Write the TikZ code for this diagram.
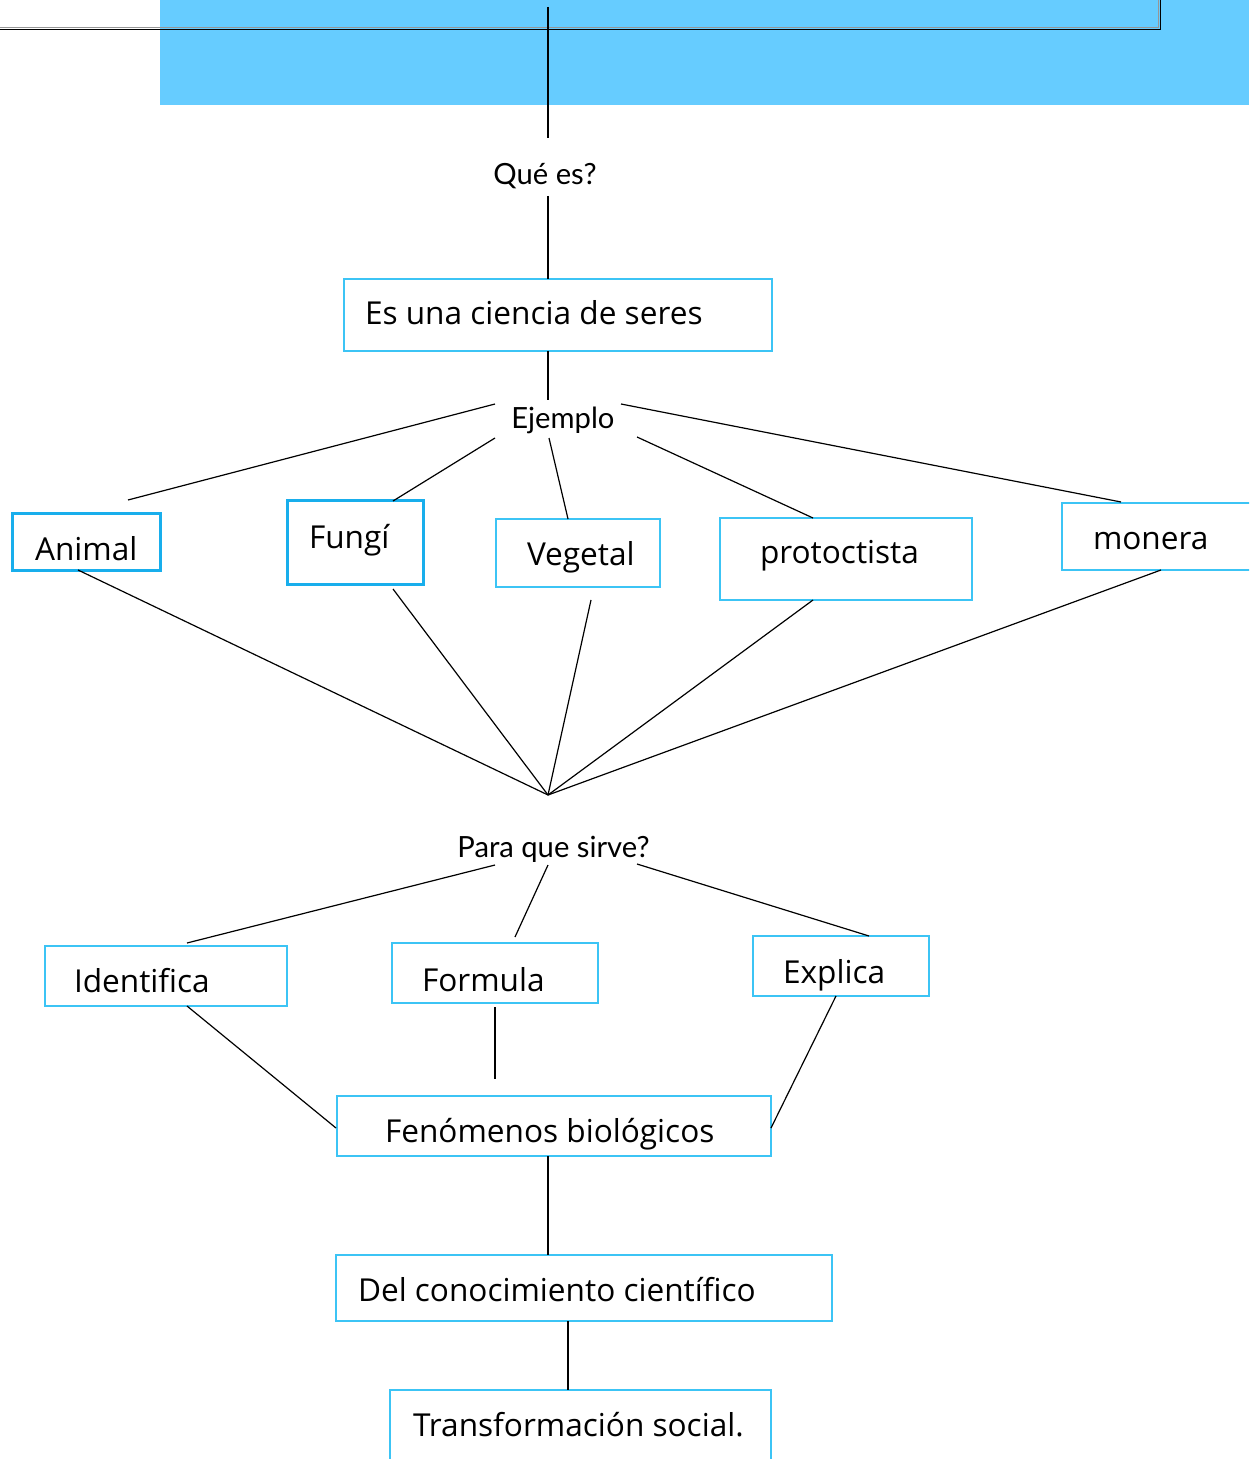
\documentclass[tikz,border=0pt]{standalone}
\usepackage{fontspec}
\newfontfamily\boxfont{Open Sans}
\newfontfamily\labelfont{Lato}
\definecolor{banner}{HTML}{66CCFF}
\definecolor{boxline}{RGB}{60,196,245}
\definecolor{boxlinedark}{RGB}{24,174,236}
\definecolor{shadowgray}{RGB}{150,150,150}

% #1 style, #2 name, #3..#6 corners (x1,y1,x2,y2), #7 text left edge, #8 baseline, #9 text
\newcommand\conceptbox[9]{%
  \pgfmathsetmacro\cbW{(#5-#3)/2}%
  \pgfmathsetmacro\cbH{(#6-#4)/2}%
  \pgfmathsetmacro\cbX{(#3+#5)/2}%
  \pgfmathsetmacro\cbY{(#4+#6)/2}%
  \pgfmathsetmacro\cbL{(#7-\cbX)/2}%
  \pgfmathsetmacro\cbB{#8-\cbY}%
  \pgfmathsetmacro\cbTH{max(\cbB,0)}%
  \pgfmathsetmacro\cbTD{max(-\cbB,0)}%
  \node[#1, minimum width=\cbW pt, minimum height=\cbH pt,
        text height=\cbTH pt, text depth=\cbTD pt]
    (#2) at (\cbX,\cbY) {\makebox[0pt][l]{\hspace*{\cbL pt}#9}};%
}

\tikzset{
  concept/.style={draw=boxline, line width=0.8pt, fill=white, inner sep=0pt,
    font=\boxfont\fontsize{15.8pt}{18pt}\selectfont},
  strongconcept/.style={concept, draw=boxlinedark, line width=1.5pt},
  linklabel/.style={anchor=base west, inner sep=0pt,
    font=\labelfont\fontsize{14.6pt}{16pt}\selectfont},
  link/.style={draw=black, line width=0.6pt},
}

\begin{document}
\begin{tikzpicture}[x=0.5pt, y=-0.5pt]
  \clip (0,0) rectangle (1249,1459);
  \fill[white] (0,0) rectangle (1249,1459);

  % title banner and its frame line
  \fill[banner] (160,0) rectangle (1249,105);
  \draw[shadowgray, line width=0.5pt] (0,27.5) -- (1158.5,27.5) -- (1158.5,0);
  \draw[black, line width=0.7pt] (0,29.5) -- (1160.5,29.5) -- (1160.5,0);

  % link phrases
  \node[linklabel] (que)    at (493,185) {Qué es?};
  \node[linklabel] (ejem)   at (511,429) {Ejemplo};
  \node[linklabel] (sirve)  at (457,857) {Para que sirve?};

  % concepts
  \conceptbox{concept}{ciencia}{344}{279}{772}{351}{365}{325}{Es una ciencia de seres}
  \conceptbox{strongconcept}{animal}{12}{514}{160}{570}{35}{560}{Animal}
  \conceptbox{strongconcept}{fungi}{287}{501}{423}{584}{309}{548}{Fungí}
  \conceptbox{concept}{vegetal}{496}{519}{660}{587}{527}{565}{Vegetal}
  \conceptbox{concept}{protoc}{720}{518}{972}{600}{760}{563}{protoctista}
  \conceptbox{concept}{monera}{1062}{503}{1262}{570}{1093}{549}{monera}
  \conceptbox{concept}{identif}{45}{946}{287}{1006}{74}{992}{Identifica}
  \conceptbox{concept}{formula}{392}{943}{598}{1003}{422}{991}{Formula}
  \conceptbox{concept}{explica}{753}{936}{929}{996}{783}{983}{Explica}
  \conceptbox{concept}{fenom}{337}{1096}{771}{1156}{385}{1142}{Fenómenos biológicos}
  \conceptbox{concept}{delcon}{336}{1255}{832}{1321}{358}{1301}{Del conocimiento científico}
  \conceptbox{concept}{transf}{390}{1390}{771}{1475}{413}{1436}{Transformación social.}

  % connector end points
  \coordinate (banner-foot) at (548,7);
  \coordinate (que-in)   at (548,138);
  \coordinate (que-out)  at (548,196);
  \coordinate (ciencia-in) at (548,279);
  \coordinate (ciencia-out) at (548,351);
  \coordinate (ejem-in)  at (548,400);
  \coordinate (ejem-ul)  at (495,404);
  \coordinate (ejem-ll)  at (495,438);
  \coordinate (ejem-b)   at (549,438);
  \coordinate (ejem-lr)  at (637,437);
  \coordinate (ejem-ur)  at (621,404);
  \coordinate (animal-in) at (128,500);
  \coordinate (fungi-in)  at (393,501);
  \coordinate (vegetal-in) at (568,519);
  \coordinate (protoc-in) at (813,518);
  \coordinate (monera-in) at (1121,502);
  \coordinate (animal-out) at (78,570);
  \coordinate (fungi-out)  at (393,589);
  \coordinate (vegetal-out) at (591,600);
  \coordinate (protoc-out) at (813,600);
  \coordinate (monera-out) at (1161,570);
  \coordinate (hub) at (548,795);
  \coordinate (sirve-l) at (495,865);
  \coordinate (sirve-m) at (548,865);
  \coordinate (sirve-r) at (637,864);
  \coordinate (identif-in) at (187,943);
  \coordinate (formula-in) at (515,937);
  \coordinate (explica-in) at (869,936);
  \coordinate (identif-out) at (187,1006);
  \coordinate (formula-out) at (495,1007);
  \coordinate (formula-end) at (495,1079);
  \coordinate (explica-out) at (836,996);
  \coordinate (fenom-l) at (336,1128);
  \coordinate (fenom-r) at (771,1128);
  \coordinate (fenom-out) at (548,1156);
  \coordinate (delcon-in) at (548,1255);
  \coordinate (delcon-out) at (568,1321);
  \coordinate (transf-in) at (568,1390);

  % connectors
  \draw[link] (banner-foot) -- (que-in);
  \draw[link] (que-out) -- (ciencia-in);
  \draw[link] (ciencia-out) -- (ejem-in);
  \draw[link] (ejem-ul) -- (animal-in);
  \draw[link] (ejem-ll) -- (fungi-in);
  \draw[link] (ejem-b) -- (vegetal-in);
  \draw[link] (ejem-lr) -- (protoc-in);
  \draw[link] (ejem-ur) -- (monera-in);
  \draw[link] (animal-out) -- (hub);
  \draw[link] (fungi-out) -- (hub);
  \draw[link] (vegetal-out) -- (hub);
  \draw[link] (protoc-out) -- (hub);
  \draw[link] (monera-out) -- (hub);
  \draw[link] (sirve-l) -- (identif-in);
  \draw[link] (sirve-m) -- (formula-in);
  \draw[link] (sirve-r) -- (explica-in);
  \draw[link] (identif-out) -- (fenom-l);
  \draw[link] (formula-out) -- (formula-end);
  \draw[link] (explica-out) -- (fenom-r);
  \draw[link] (fenom-out) -- (delcon-in);
  \draw[link] (delcon-out) -- (transf-in);
\end{tikzpicture}
\end{document}
